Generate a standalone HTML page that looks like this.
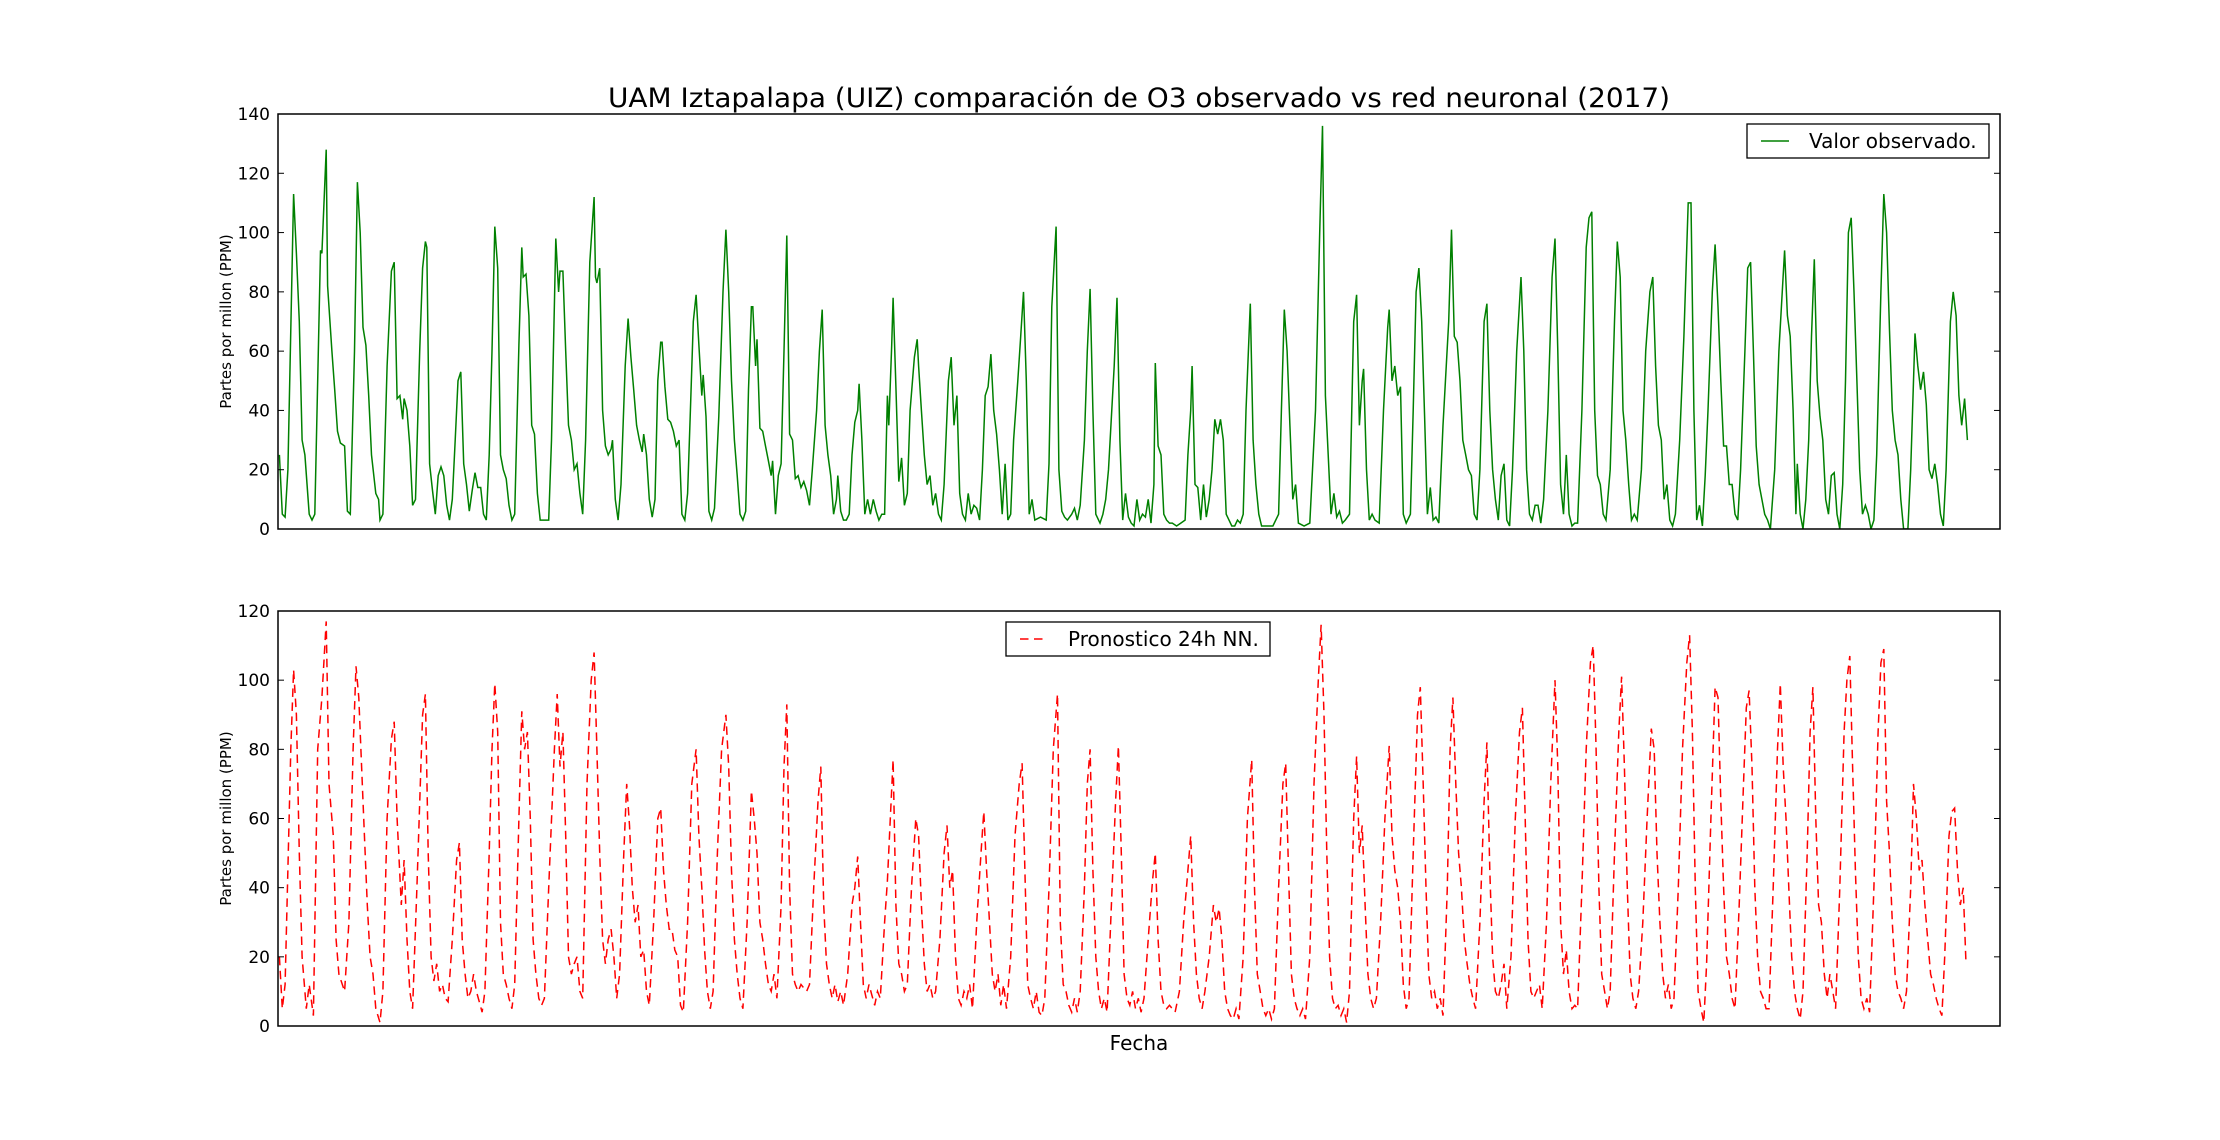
<!DOCTYPE html>
<html><head><meta charset="utf-8"><style>
html,body{margin:0;padding:0;background:#fff;}
svg{display:block;font-family:"DejaVu Sans","Liberation Sans",sans-serif;}
</style></head><body>
<svg id="chart" width="2220" height="1140" viewBox="0 0 2220 1140" xmlns="http://www.w3.org/2000/svg">
<rect width="2220" height="1140" fill="#fff"/>
<text x="1139" y="107" font-size="27" text-anchor="middle" textLength="1062" lengthAdjust="spacingAndGlyphs" fill="#000">UAM Iztapalapa (UIZ) comparación de O3 observado vs red neuronal (2017)</text>
<g id="top"></g>
<g id="bot"></g>
<text x="1139" y="1050" font-size="20" text-anchor="middle">Fecha</text>
</svg>
<script>
const observedTicks=[0,20,40,60,80,100,120,140];
const forecastTicks=[0,20,40,60,80,100,120];
const hourDomain=[0,1215];
const observed=[[1,25],[3,5],[5,4],[7,20],[11,113],[13,93],[15,70],[17,30],[19,25],[22,5],[24,3],[26,5],[30,94],[31,93],[34,128],[35,82],[38,60],[40,47],[42,33],[44,29],[47,28],[49,6],[51,5],[54,60],[56,117],[58,100],[60,68],[62,62],[64,45],[66,25],[69,12],[71,10],[72,3],[74,5],[77,55],[80,87],[82,90],[84,44],[86,45],[88,37],[89,44],[91,40],[93,28],[95,8],[97,10],[100,60],[102,88],[104,97],[105,95],[107,22],[109,13],[111,5],[113,18],[115,21],[117,18],[119,8],[121,3],[123,10],[125,30],[127,50],[129,53],[131,22],[133,15],[135,6],[137,13],[139,19],[141,14],[143,14],[145,5],[147,3],[149,25],[151,60],[153,102],[155,88],[157,25],[159,20],[161,17],[163,8],[165,3],[167,5],[170,62],[172,95],[173,85],[175,86],[177,72],[179,35],[181,32],[183,12],[185,3],[187,3],[191,3],[193,30],[196,98],[198,80],[199,87],[201,87],[203,60],[205,35],[207,30],[209,20],[211,22],[213,12],[215,5],[217,30],[220,90],[223,112],[224,85],[225,83],[227,88],[229,40],[231,28],[233,25],[235,27],[236,30],[238,10],[240,3],[242,15],[245,55],[247,71],[249,58],[251,47],[253,35],[255,30],[257,26],[258,32],[260,25],[262,10],[264,4],[266,10],[268,50],[270,63],[271,63],[273,48],[275,37],[277,36],[279,33],[281,28],[283,30],[285,5],[287,3],[289,12],[291,40],[293,70],[295,79],[297,62],[299,45],[300,52],[302,38],[304,6],[306,3],[308,7],[311,38],[314,80],[316,101],[318,80],[320,50],[322,30],[324,18],[326,5],[328,3],[330,6],[332,47],[334,75],[335,75],[337,55],[338,64],[340,34],[342,33],[344,28],[346,23],[348,18],[349,23],[351,5],[353,18],[355,22],[357,60],[359,99],[361,32],[363,30],[365,17],[367,18],[369,14],[371,16],[373,13],[375,8],[377,20],[380,40],[382,60],[384,74],[386,35],[388,25],[390,18],[392,5],[394,10],[395,18],[397,6],[399,3],[401,3],[403,5],[405,25],[407,36],[409,40],[410,49],[412,30],[414,5],[416,10],[418,5],[420,10],[422,6],[424,3],[426,5],[428,5],[430,45],[431,35],[433,62],[434,78],[436,48],[438,16],[440,24],[442,8],[444,12],[446,40],[449,58],[451,64],[452,55],[454,40],[456,25],[458,15],[460,18],[462,8],[464,12],[466,5],[468,3],[470,15],[473,50],[475,58],[477,35],[479,45],[481,12],[483,5],[485,3],[487,12],[489,5],[491,8],[493,7],[495,3],[497,20],[499,45],[501,48],[503,59],[505,40],[507,32],[509,20],[511,5],[513,22],[515,3],[517,5],[519,30],[522,50],[524,65],[526,80],[528,50],[530,5],[532,10],[534,3],[538,4],[542,3],[544,22],[546,75],[549,102],[551,20],[553,6],[555,4],[557,3],[560,5],[562,7],[564,3],[566,8],[569,30],[571,60],[573,81],[575,40],[577,5],[580,2],[582,5],[584,10],[586,20],[590,55],[592,78],[594,30],[596,3],[598,12],[600,4],[602,2],[604,1],[606,10],[608,3],[610,5],[612,4],[614,10],[616,2],[618,15],[619,56],[621,28],[623,25],[625,5],[627,3],[629,2],[631,2],[634,1],[637,2],[640,3],[642,25],[644,40],[645,55],[647,15],[649,14],[651,3],[653,15],[655,4],[657,10],[659,20],[661,37],[663,32],[665,37],[667,30],[669,5],[671,3],[673,1],[675,1],[677,3],[679,2],[681,5],[683,40],[686,76],[688,30],[690,15],[692,5],[694,1],[698,1],[702,1],[706,5],[708,40],[710,74],[712,60],[714,35],[716,10],[718,15],[720,2],[724,1],[728,2],[732,40],[735,100],[737,136],[739,45],[741,25],[743,5],[745,12],[747,4],[749,6],[751,2],[753,3],[756,5],[759,70],[761,79],[763,35],[765,50],[766,54],[768,20],[770,3],[772,5],[774,3],[777,2],[780,40],[783,68],[784,74],[786,50],[788,55],[790,45],[792,48],[794,5],[796,2],[799,5],[801,40],[803,80],[805,88],[807,70],[809,38],[811,5],[813,14],[815,3],[817,4],[819,2],[822,35],[826,70],[828,101],[830,65],[832,63],[834,50],[836,30],[838,25],[840,20],[842,18],[844,5],[846,3],[848,20],[851,70],[853,76],[855,40],[857,20],[859,10],[861,3],[863,18],[865,22],[867,3],[869,1],[871,20],[874,60],[877,85],[879,60],[881,20],[883,5],[885,3],[887,8],[889,8],[891,2],[893,10],[896,40],[899,85],[901,98],[903,60],[905,15],[907,5],[909,25],[911,5],[913,1],[915,2],[917,2],[920,40],[923,95],[925,105],[927,107],[929,40],[931,18],[933,15],[935,5],[937,3],[940,20],[943,70],[945,97],[947,85],[949,40],[951,30],[953,15],[955,3],[957,5],[959,3],[962,20],[965,60],[968,80],[970,85],[972,55],[974,35],[976,30],[978,10],[980,15],[982,3],[984,1],[986,5],[989,30],[992,65],[995,110],[997,110],[999,40],[1001,3],[1003,8],[1005,1],[1007,18],[1009,40],[1012,80],[1014,96],[1016,75],[1018,50],[1020,28],[1022,28],[1024,15],[1026,15],[1028,5],[1030,3],[1032,20],[1035,60],[1037,88],[1039,90],[1041,60],[1043,28],[1045,15],[1047,10],[1049,5],[1051,3],[1053,0],[1056,20],[1059,60],[1063,94],[1065,72],[1067,65],[1069,40],[1071,5],[1072,22],[1074,5],[1076,0],[1078,10],[1080,30],[1082,65],[1084,91],[1086,50],[1088,38],[1090,30],[1092,10],[1094,5],[1096,18],[1098,19],[1100,5],[1102,0],[1104,15],[1106,50],[1108,100],[1110,105],[1112,80],[1114,50],[1116,20],[1118,5],[1120,8],[1122,5],[1124,0],[1126,3],[1128,25],[1131,80],[1133,113],[1135,100],[1137,67],[1139,40],[1141,30],[1143,25],[1145,10],[1147,0],[1150,0],[1152,20],[1155,66],[1157,55],[1159,47],[1161,53],[1163,42],[1165,20],[1167,17],[1169,22],[1171,15],[1173,5],[1175,1],[1177,20],[1180,70],[1182,80],[1184,72],[1186,45],[1188,35],[1190,44],[1192,30]];
const forecast=[[1,20],[3,5],[5,12],[9,80],[11,103],[13,90],[15,50],[17,20],[20,5],[22,12],[25,3],[28,80],[31,95],[34,117],[36,70],[39,55],[41,25],[43,15],[47,10],[50,30],[53,80],[55,104],[57,95],[60,65],[63,35],[65,20],[67,15],[69,5],[72,1],[74,10],[77,60],[80,83],[82,88],[84,60],[87,35],[89,48],[91,25],[93,10],[95,5],[98,40],[102,90],[104,96],[106,50],[108,20],[110,13],[112,18],[114,10],[116,12],[118,8],[120,7],[123,25],[126,48],[128,53],[130,25],[132,15],[134,8],[136,10],[138,15],[140,10],[142,7],[144,4],[146,10],[149,50],[151,80],[153,99],[155,85],[157,30],[159,15],[161,12],[163,8],[165,5],[167,12],[170,60],[172,91],[174,80],[176,85],[178,60],[180,25],[182,15],[184,8],[186,6],[188,8],[191,40],[195,80],[197,96],[199,75],[201,85],[203,55],[205,20],[207,15],[209,18],[211,20],[213,10],[215,8],[218,70],[221,100],[223,108],[225,80],[227,50],[229,25],[231,18],[233,25],[235,28],[237,20],[239,8],[241,15],[244,50],[246,70],[248,58],[250,40],[252,30],[254,35],[256,20],[258,22],[260,10],[262,6],[265,30],[268,60],[270,63],[272,45],[274,35],[276,28],[278,28],[280,22],[282,20],[284,6],[286,4],[289,30],[292,70],[295,80],[297,55],[299,40],[301,22],[303,10],[305,5],[307,10],[310,50],[313,80],[316,90],[318,75],[320,45],[322,25],[324,15],[326,8],[328,5],[331,30],[334,68],[336,60],[338,50],[340,30],[342,25],[344,18],[346,12],[348,10],[350,15],[352,8],[355,35],[357,75],[359,93],[361,40],[363,15],[365,12],[367,10],[369,12],[371,11],[373,10],[375,12],[378,40],[381,65],[383,75],[385,35],[387,18],[389,12],[391,8],[393,12],[395,7],[397,10],[399,6],[402,15],[405,35],[407,40],[409,49],[411,30],[413,12],[415,8],[417,12],[419,9],[421,6],[423,10],[425,8],[428,30],[430,42],[432,60],[434,77],[436,35],[438,18],[440,15],[442,10],[444,12],[447,40],[450,60],[452,55],[454,35],[456,18],[458,10],[460,12],[462,8],[464,10],[467,25],[470,50],[472,58],[474,40],[476,45],[478,20],[480,8],[482,6],[484,10],[486,8],[488,12],[490,5],[493,30],[496,50],[498,62],[500,45],[502,30],[504,15],[506,10],[508,15],[510,6],[512,12],[514,5],[517,20],[520,55],[523,70],[525,76],[527,45],[529,12],[531,8],[533,5],[535,10],[537,4],[539,3],[541,8],[544,40],[547,80],[550,96],[552,30],[554,12],[556,10],[558,6],[560,4],[562,8],[564,4],[566,10],[569,40],[571,70],[573,80],[575,45],[577,20],[579,10],[581,5],[583,8],[585,4],[588,35],[591,65],[593,81],[595,50],[597,15],[599,8],[601,6],[603,10],[605,5],[607,8],[609,4],[611,8],[614,25],[617,42],[619,50],[621,25],[623,10],[625,6],[627,5],[629,6],[631,5],[633,4],[636,10],[639,30],[642,45],[644,55],[646,30],[648,15],[650,8],[652,5],[654,10],[657,20],[660,35],[662,30],[664,34],[666,25],[668,10],[670,5],[672,3],[674,2],[676,5],[678,2],[681,20],[684,60],[687,77],[689,40],[691,15],[693,10],[695,5],[697,3],[699,5],[701,2],[703,5],[706,40],[709,70],[711,76],[713,45],[715,15],[717,8],[719,5],[721,3],[723,5],[725,2],[728,20],[731,70],[734,100],[736,116],[738,90],[740,50],[742,20],[744,8],[746,5],[748,6],[750,3],[752,5],[754,1],[756,10],[759,60],[761,78],[763,50],[765,58],[767,35],[769,15],[771,8],[773,5],[775,8],[778,30],[781,60],[784,81],[786,55],[788,45],[790,40],[792,30],[794,12],[796,5],[798,8],[801,50],[804,90],[806,98],[808,70],[810,40],[812,15],[814,8],[816,10],[818,5],[820,8],[822,3],[825,40],[827,80],[829,95],[831,70],[833,50],[835,40],[837,25],[839,18],[841,12],[843,8],[845,5],[848,30],[851,65],[853,82],[855,45],[857,20],[859,10],[861,8],[863,12],[865,18],[867,5],[870,20],[873,60],[876,85],[878,92],[880,60],[882,25],[884,10],[886,8],[888,10],[890,12],[892,5],[895,30],[898,70],[901,100],[903,75],[905,30],[907,15],[909,22],[911,10],[913,5],[915,6],[917,5],[920,40],[923,80],[926,105],[928,110],[930,80],[932,40],[934,15],[936,10],[938,5],[940,10],[943,50],[946,85],[948,101],[950,75],[952,40],[954,15],[956,8],[958,5],[960,10],[963,30],[966,60],[969,86],[971,80],[973,50],[975,30],[977,15],[979,8],[981,12],[983,5],[985,8],[988,40],[991,80],[994,105],[996,113],[998,85],[1000,40],[1002,10],[1004,5],[1006,1],[1008,18],[1011,60],[1014,98],[1016,95],[1018,65],[1020,40],[1022,20],[1024,15],[1026,8],[1028,5],[1031,35],[1034,70],[1036,92],[1038,97],[1040,75],[1042,40],[1044,20],[1046,10],[1048,8],[1050,5],[1052,5],[1055,40],[1058,80],[1060,99],[1062,75],[1064,60],[1066,40],[1068,20],[1070,10],[1072,5],[1074,2],[1076,10],[1079,50],[1081,85],[1083,98],[1085,60],[1087,35],[1089,30],[1091,15],[1093,8],[1095,15],[1097,10],[1099,5],[1102,40],[1105,85],[1107,100],[1109,107],[1111,75],[1113,45],[1115,20],[1117,8],[1119,5],[1121,8],[1123,4],[1126,40],[1129,85],[1131,105],[1133,109],[1135,65],[1137,50],[1139,30],[1141,15],[1143,10],[1145,8],[1147,5],[1149,10],[1152,40],[1154,70],[1156,60],[1158,45],[1160,48],[1162,35],[1164,25],[1166,15],[1168,12],[1170,8],[1172,5],[1174,3],[1176,20],[1179,55],[1181,62],[1183,63],[1185,45],[1187,35],[1189,40],[1191,18]];

const NS='http://www.w3.org/2000/svg';
const svg=document.getElementById('chart');
const L=278,R=2000;
function xScale(t){return L+(t-hourDomain[0])/(hourDomain[1]-hourDomain[0])*(R-L);}
function mk(tag,attrs,parent){const e=document.createElementNS(NS,tag);for(const k in attrs)e.setAttribute(k,attrs[k]);parent.appendChild(e);return e;}

function panel(g,top,bottom,ticks,data,color,dash,legendText,lg,name){
  const maxV=ticks[ticks.length-1];
  const y=v=>bottom-v/maxV*(bottom-top);
  let d='';
  data.forEach((p,i)=>{d+=(i?'L':'M')+xScale(p[0]).toFixed(1)+' '+y(p[1]).toFixed(1);});
  const clip=mk('clipPath',{id:'clip-'+name},g);
  mk('rect',{x:L,y:top,width:R-L,height:bottom-top},clip);
  const line=mk('path',{d:d,fill:'none',stroke:color,'stroke-width':1.5,'stroke-dasharray':dash,'clip-path':'url(#clip-'+name+')'},g);
  
  
  ticks.forEach(v=>{
    const yy=y(v);
    const tl=mk('line',{x1:L,x2:L+6,y1:yy,y2:yy,stroke:'#000','stroke-width':1},g);
    
    
    const tr=mk('line',{x1:R-6,x2:R,y1:yy,y2:yy,stroke:'#000','stroke-width':1},g);
    
    
    const t=mk('text',{x:L-8,y:yy+6,'font-size':17,'text-anchor':'end'},g);
    t.textContent=v;
    
    
  });
  const frame=mk('rect',{x:L,y:top,width:R-L,height:bottom-top,fill:'none',stroke:'#000','stroke-width':1.5},g);
  
  
  const cy=(top+bottom)/2;
  const yl=mk('text',{x:0,y:0,'font-size':15,'text-anchor':'middle',transform:'translate(231,'+cy+') rotate(-90)'},g);
  yl.textContent='Partes por millon (PPM)';
  
  
  const lgG=mk('g',{},g);
  
  
  mk('rect',{x:lg.x,y:lg.y,width:lg.w,height:34,fill:'#fff',stroke:'#000','stroke-width':1.3},lgG);
  mk('line',{x1:lg.x+14,x2:lg.x+42,y1:lg.y+17,y2:lg.y+17,stroke:color,'stroke-width':1.5,'stroke-dasharray':dash},lgG);
  const lt=mk('text',{x:lg.x+62,y:lg.y+24,'font-size':20},lgG);
  lt.textContent=legendText;
  
  
}
panel(document.getElementById('top'),114,529,observedTicks,observed,'#008000','none','Valor observado.',{x:1747,y:124,w:242},'observed');
panel(document.getElementById('bot'),611,1026,forecastTicks,forecast,'#ff0000','8.5 5.5','Pronostico 24h NN.',{x:1006,y:622,w:264},'forecast');
</script>
</body></html>
